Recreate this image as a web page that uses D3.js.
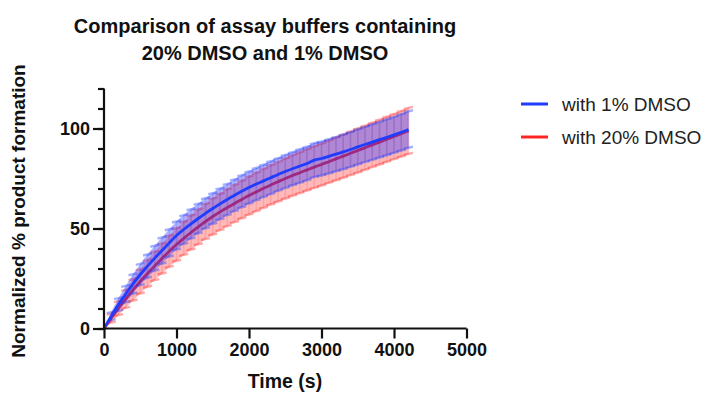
<!DOCTYPE html>
<html>
<head>
<meta charset="utf-8">
<script src="https://cdn.jsdelivr.net/npm/d3@7"></script>
<style>
  body { margin: 0; background: #fff; }
  svg { display: block; font-family: "Liberation Sans", Arial, sans-serif; }
</style>
</head>
<body>
<svg id="chart" width="707" height="393"></svg>
<script>
// time points (s)
var times = [0, 100, 200, 300, 400, 500, 600, 700, 800, 900, 1000,
  1100, 1200, 1300, 1400, 1500, 1600, 1700, 1800, 1900, 2000,
  2100, 2200, 2300, 2400, 2500, 2600, 2700, 2800, 2900, 3000,
  3100, 3200, 3300, 3400, 3500, 3600, 3700, 3800, 3900, 4000, 4100, 4200];

// with 1% DMSO : mean and SD
var mean1 = [0, 6.2, 12, 17.2, 22.3, 27, 31.2, 35.2, 39, 42.8, 46.5,
  49.5, 52.3, 55, 57.6, 60, 62.3, 64.5, 66.6, 68.6, 70.5,
  72.2, 73.8, 75.4, 77, 78.5, 79.9, 81.2, 82.5, 84.2, 85,
  86.1, 87.2, 88.3, 89.5, 90.8, 92, 93.2, 94.4, 95.6, 96.8, 98.1, 99.5];
var sd1 = [0, 2, 3.2, 4.1, 4.8, 5.3, 5.8, 6.2, 6.5, 6.8, 7,
  7.2, 7.3, 7.4, 7.5, 7.6, 7.7, 7.8, 7.9, 8, 8,
  8.1, 8.1, 8.2, 8.2, 8.3, 8.3, 8.4, 8.4, 8.5, 8.5,
  8.6, 8.6, 8.7, 8.7, 8.8, 8.8, 8.9, 8.9, 9, 9, 9.1, 9.1];

// with 20% DMSO : mean and SD
var mean20 = [0, 5.2, 10.2, 14.8, 19.3, 23.5, 27.5, 31.3, 35, 38.6, 42,
  45.1, 48, 50.8, 53.5, 56, 58.3, 60.4, 62.5, 64.5, 66.5,
  68.3, 70.1, 71.8, 73.4, 75, 76.5, 77.9, 79.3, 80.7, 82,
  83.4, 84.8, 86.2, 87.6, 89, 90.4, 91.8, 93.2, 94.6, 96, 97.4, 98.8];
var sd20 = [0, 2.2, 3.5, 4.5, 5.3, 6, 6.6, 7.1, 7.5, 7.8, 8.1,
  8.3, 8.5, 8.7, 8.8, 9, 9.1, 9.2, 9.3, 9.4, 9.5,
  9.6, 9.7, 9.8, 9.9, 10, 10.1, 10.2, 10.3, 10.4, 10.5,
  10.6, 10.7, 10.8, 10.9, 11, 11, 11.1, 11.2, 11.3, 11.3, 11.4, 11.5];

var xTicks = [0, 1000, 2000, 3000, 4000, 5000];
var yTicks = [0, 50, 100];
var yMinor = [0, 10, 20, 30, 40, 50, 60, 70, 80, 90, 100, 110, 120];

var seriesNames = ["with 1% DMSO", "with 20% DMSO"];
var seriesColors = ["#1f3cff", "#ff2424"];

var svg = d3.select("#chart");

var x = d3.scaleLinear().domain([0, 5000]).range([104, 466.5]);
var y = d3.scaleLinear().domain([0, 120]).range([328.5, 88.5]);

function build(mean, sd) {
  return times.map(function (t, i) {
    return { t: t, m: mean[i], lo: mean[i] - sd[i], hi: mean[i] + sd[i] };
  });
}

var series = [
  { name: seriesNames[1], color: seriesColors[1], data: build(mean20, sd20), band: "rgba(255,50,50,0.34)", line: "#e8202c" },
  { name: seriesNames[0], color: seriesColors[0], data: build(mean1, sd1), band: "rgba(45,55,255,0.38)", line: "#1f3cff" }
];

var area = d3.area()
  .x(function (d) { return x(d.t); })
  .y0(function (d) { return y(d.lo); })
  .y1(function (d) { return y(d.hi); })
  .curve(d3.curveMonotoneX);

var line = d3.line()
  .x(function (d) { return x(d.t); })
  .y(function (d) { return y(d.m); })
  .curve(d3.curveMonotoneX);

var plot = svg.append("g");

// red drawn first, blue on top of it
series.forEach(function (s) {
  var g = plot.append("g");
  g.append("path")
    .datum(s.data)
    .attr("d", area)
    .attr("fill", s.band);

  var bars = g.selectAll(".eb")
    .data(s.data.slice(1))
    .enter().append("g")
    .attr("stroke", s.color);
  bars.append("line")
    .attr("stroke-opacity", 0.15)
    .attr("stroke-width", 1.5)
    .attr("x1", function (d) { return x(d.t); })
    .attr("x2", function (d) { return x(d.t); })
    .attr("y1", function (d) { return y(d.lo); })
    .attr("y2", function (d) { return y(d.hi); });
  ["hi", "lo"].forEach(function (k) {
    bars.append("line")
      .attr("stroke-opacity", 0.4)
      .attr("stroke-width", 2.5)
      .attr("x1", function (d) { return x(d.t) - 4.5; })
      .attr("x2", function (d) { return x(d.t) + 4.5; })
      .attr("y1", function (d) { return y(d[k]) + 1; })
      .attr("y2", function (d) { return y(d[k]) - 1; });
  });

  g.append("path")
    .datum(s.data)
    .attr("d", line)
    .attr("fill", "none")
    .attr("stroke", s.line)
    .attr("stroke-width", 2.8);
});

// axes
var xAxis = svg.append("g")
  .attr("transform", "translate(0," + y(0) + ")")
  .call(d3.axisBottom(x).tickValues(xTicks).tickSize(10).tickPadding(5).tickFormat(d3.format("d")));

var yAxisMinor = svg.append("g")
  .attr("transform", "translate(" + x(0) + ",0)")
  .call(d3.axisLeft(y).tickValues(yMinor).tickSize(6).tickFormat(""));

var yAxis = svg.append("g")
  .attr("transform", "translate(" + x(0) + ",0)")
  .call(d3.axisLeft(y).tickValues(yTicks).tickSize(11).tickPadding(3));

[xAxis, yAxisMinor, yAxis].forEach(function (a) {
  a.select(".domain").attr("stroke", "#111").attr("stroke-width", 2.2);
  a.selectAll(".tick line").attr("stroke", "#111").attr("stroke-width", 2.2);
  a.selectAll(".tick text")
    .attr("fill", "#111")
    .style("font-size", "18px")
    .style("font-weight", "bold")
    .style("font-family", "'Liberation Sans', Arial, sans-serif");
});
xAxis.select(".domain").attr("d", "M" + x(0) + ",0H" + x(5000));
yAxisMinor.select(".domain").attr("d", "M0," + y(0) + "V" + y(120));
yAxis.select(".domain").remove();

// titles
var title = svg.append("text")
  .attr("text-anchor", "middle")
  .attr("font-weight", "bold")
  .attr("font-size", "20px")
  .attr("fill", "#111");
title.append("tspan").attr("x", 265).attr("y", 33).text("Comparison of assay buffers containing");
title.append("tspan").attr("x", 265).attr("y", 60).text("20% DMSO and 1% DMSO");

svg.append("text")
  .attr("transform", "translate(25,211) rotate(-90)")
  .attr("text-anchor", "middle")
  .attr("font-weight", "bold")
  .attr("font-size", "19px")
  .attr("fill", "#111")
  .text("Normalized % product formation");

svg.append("text")
  .attr("x", 285)
  .attr("y", 388)
  .attr("text-anchor", "middle")
  .attr("font-weight", "bold")
  .attr("font-size", "19.5px")
  .attr("fill", "#111")
  .text("Time (s)");

// legend
var legend = svg.append("g").attr("transform", "translate(521,104)");
var li = legend.selectAll("g")
  .data([0, 1])
  .enter().append("g")
  .attr("transform", function (d) { return "translate(0," + d * 33 + ")"; });
li.append("line")
  .attr("x1", 0).attr("x2", 27)
  .attr("stroke", function (d) { return seriesColors[d]; })
  .attr("stroke-width", 3);
li.append("text")
  .attr("x", 41)
  .attr("y", 7)
  .attr("font-size", "19px")
  .attr("fill", "#222")
  .text(function (d) { return seriesNames[d]; });
</script>
</body>
</html>
